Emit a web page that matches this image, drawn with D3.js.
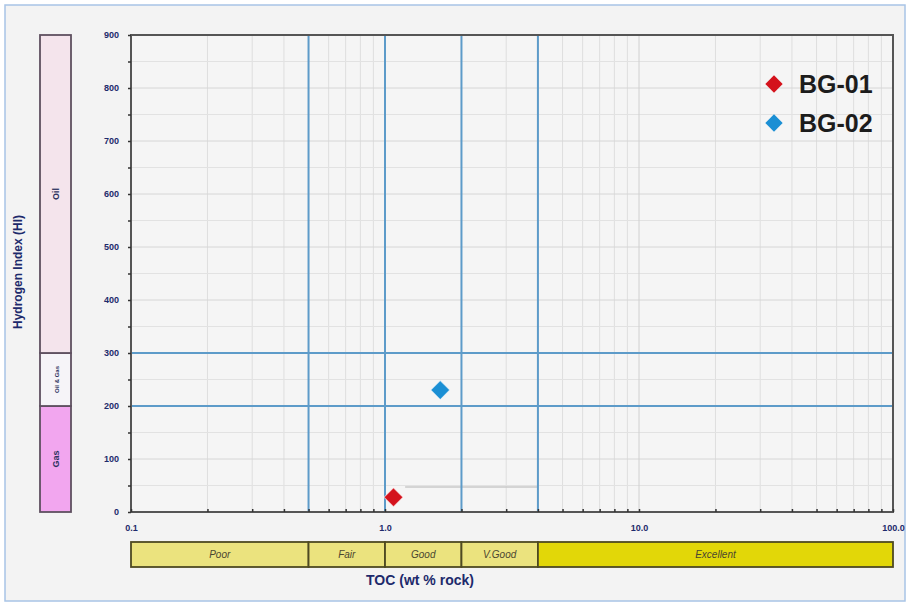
<!DOCTYPE html>
<html>
<head>
<meta charset="utf-8">
<script src="https://cdn.jsdelivr.net/npm/d3@7.9.0/dist/d3.min.js"></script>
<style>
  html, body { margin: 0; padding: 0; background: #ffffff; }
  svg { display: block; font-family: "Liberation Sans", Arial, sans-serif; }
</style>
</head>
<body>
<svg id="chart" width="910" height="606"></svg>
<script>
// sample data
const samples = ["BG-01", "BG-02"];
const tocValues = [1.08, 1.65];
const hiValues = [28, 230];
const sampleColors = ["#d4121c", "#1b8fd4"];

// axis ticks
const xTicks = [0.1, 1, 10, 100];
const xTickLabels = ["0.1", "1.0", "10.0", "100.0"];
const yTicks = [0, 100, 200, 300, 400, 500, 600, 700, 800, 900];

// classification bands
const tocBreaks = [0.1, 0.5, 1, 2, 4, 100];
const tocClasses = ["Poor", "Fair", "Good", "V.Good", "Excellent"];
const tocFills = ["#ebe37e", "#ebe37e", "#ebe37e", "#ebe37e", "#e2d708"];

const hiBreaks = [0, 200, 300, 900];
const hiZones = ["Gas", "Oil & Gas", "Oil"];
const hiFills = ["#f2a6ef", "#f6f4f8", "#f4e4ec"];

// blue threshold lines
const tocLines = [0.5, 1, 2, 4];
const hiLines = [200, 300];

const svg = d3.select("#chart");
const W = 910, H = 606;

// frame / background
svg.append("rect").attr("x", 5).attr("y", 5).attr("width", W - 10).attr("height", H - 10)
  .attr("fill", "#f3f3f3").attr("stroke", "#a8c4e6").attr("stroke-width", 1.5);

const x = d3.scaleLog().domain([0.1, 100]).range([131, 893]);
const y = d3.scaleLinear().domain([0, 900]).range([512, 35]);

const navy = "#1d2a6b";

// plot background
svg.append("rect").attr("x", x(0.1)).attr("y", y(900))
  .attr("width", x(100) - x(0.1)).attr("height", y(0) - y(900))
  .attr("fill", "#f5f5f5");

// minor grid
const minorX = [];
[0.1, 1, 10].forEach(d => { for (let k = 2; k <= 9; k++) minorX.push(d * k); });
svg.append("g").selectAll("line").data(minorX).join("line")
  .attr("x1", d => x(d)).attr("x2", d => x(d))
  .attr("y1", y(900)).attr("y2", y(0))
  .attr("stroke", "#dedede").attr("stroke-width", 1);

svg.append("g").selectAll("line").data(d3.range(50, 900, 50)).join("line")
  .attr("x1", x(0.1)).attr("x2", x(100))
  .attr("y1", d => y(d)).attr("y2", d => y(d))
  .attr("stroke", d => d % 100 === 0 ? "#d6d6d6" : "#e2e2e2").attr("stroke-width", 1);

// major vertical grid at decades
svg.append("g").selectAll("line").data([1, 10]).join("line")
  .attr("x1", d => x(d)).attr("x2", d => x(d))
  .attr("y1", y(900)).attr("y2", y(0))
  .attr("stroke", "#d0d0d0").attr("stroke-width", 1);

// faint segment near BG-01
svg.append("line").attr("x1", x(1.2)).attr("x2", x(4))
  .attr("y1", y(47)).attr("y2", y(47))
  .attr("stroke", "#c9c9c9").attr("stroke-width", 1.5);

// blue threshold lines
svg.append("g").selectAll("line").data(tocLines).join("line")
  .attr("x1", d => x(d)).attr("x2", d => x(d))
  .attr("y1", y(900)).attr("y2", y(0))
  .attr("stroke", "#5d9bc9").attr("stroke-width", 2);
svg.append("g").selectAll("line").data(hiLines).join("line")
  .attr("x1", x(0.1)).attr("x2", x(100))
  .attr("y1", d => y(d)).attr("y2", d => y(d))
  .attr("stroke", "#5d9bc9").attr("stroke-width", 2);

// plot frame
svg.append("rect").attr("x", x(0.1)).attr("y", y(900))
  .attr("width", x(100) - x(0.1)).attr("height", y(0) - y(900))
  .attr("fill", "none").attr("stroke", "#555").attr("stroke-width", 2);

// y axis
const yAxis = d3.axisLeft(y).tickValues(d3.range(0, 901, 50)).tickSize(3)
  .tickFormat(d => yTicks.includes(d) ? d : "");
const gy = svg.append("g").attr("transform", `translate(${x(0.1)},0)`).call(yAxis);
gy.select(".domain").remove();
gy.selectAll(".tick line").attr("stroke", "#333").attr("stroke-width", 1.5);
gy.selectAll(".tick text").attr("x", -12).attr("fill", navy)
  .style("font-size", "9px").style("font-weight", "bold");

// x axis
const xAxis = d3.axisBottom(x).tickValues(xTicks.concat(minorX)).tickSize(3)
  .tickFormat(d => { const i = xTicks.indexOf(d); return i >= 0 ? xTickLabels[i] : ""; });
const gx = svg.append("g").attr("transform", `translate(0,${y(0)})`).call(xAxis);
gx.select(".domain").remove();
gx.selectAll(".tick line").attr("y1", -3).attr("y2", 0).attr("stroke", "#333").attr("stroke-width", 1.5);
gx.selectAll(".tick text").attr("y", 13).attr("fill", navy)
  .style("font-size", "9px").style("font-weight", "bold");

// axis titles
svg.append("text").attr("transform", "translate(22,272) rotate(-90)")
  .attr("text-anchor", "middle").attr("fill", navy)
  .style("font-size", "12px").style("font-weight", "bold")
  .text("Hydrogen Index (HI)");
svg.append("text").attr("x", 420).attr("y", 585)
  .attr("text-anchor", "middle").attr("fill", navy)
  .style("font-size", "14px").style("font-weight", "bold")
  .text("TOC (wt % rock)");

// HI zone column
const zx = 40, zw = 31;
const zones = svg.append("g");
zones.selectAll("rect").data(hiZones).join("rect")
  .attr("x", zx).attr("width", zw)
  .attr("y", (d, i) => y(hiBreaks[i + 1]))
  .attr("height", (d, i) => y(hiBreaks[i]) - y(hiBreaks[i + 1]))
  .attr("fill", (d, i) => hiFills[i])
  .attr("stroke", "#5f5060").attr("stroke-width", 1.8);
zones.selectAll("text").data(hiZones).join("text")
  .attr("transform", (d, i) => `translate(${zx + zw / 2 + 3},${y((hiBreaks[i] + hiBreaks[i + 1]) / 2)}) rotate(-90)`)
  .attr("text-anchor", "middle").attr("fill", "#2e3460")
  .style("font-size", (d, i) => i === 1 ? "6px" : "9px").style("font-weight", "bold")
  .text(d => d);

// TOC class bar
const by = 542, bh = 25;
const bands = svg.append("g");
bands.selectAll("rect").data(tocClasses).join("rect")
  .attr("x", (d, i) => x(tocBreaks[i])).attr("y", by)
  .attr("width", (d, i) => x(tocBreaks[i + 1]) - x(tocBreaks[i]))
  .attr("height", bh)
  .attr("fill", (d, i) => tocFills[i])
  .attr("stroke", "#4e4a22").attr("stroke-width", 1.8);
bands.selectAll("text").data(tocClasses).join("text")
  .attr("x", (d, i) => (x(tocBreaks[i]) + x(tocBreaks[i + 1])) / 2)
  .attr("y", by + bh / 2 + 3.5)
  .attr("text-anchor", "middle").attr("fill", "#4a4630")
  .style("font-size", "10px").style("font-style", "italic")
  .text(d => d);

// sample points
const diamond = d3.symbol().type(d3.symbolSquare).size(180);
svg.append("g").selectAll("path").data(samples).join("path")
  .attr("d", diamond)
  .attr("transform", (d, i) => `translate(${x(tocValues[i])},${y(hiValues[i])}) rotate(45)`)
  .attr("fill", (d, i) => sampleColors[i])
  .attr("stroke", "#ffffff").attr("stroke-opacity", 0.6).attr("stroke-width", 1);

// legend
const legend = svg.append("g").attr("transform", "translate(774,84)");
const items = legend.selectAll("g").data(samples).join("g")
  .attr("transform", (d, i) => `translate(0,${i * 39})`);
items.append("path").attr("d", d3.symbol().type(d3.symbolSquare).size(150))
  .attr("transform", "rotate(45)")
  .attr("fill", (d, i) => sampleColors[i]);
items.append("text").attr("x", 25).attr("y", 9)
  .attr("fill", "#1c1c1c")
  .style("font-size", "25px").style("font-weight", "bold")
  .text(d => d);
</script>
</body>
</html>
